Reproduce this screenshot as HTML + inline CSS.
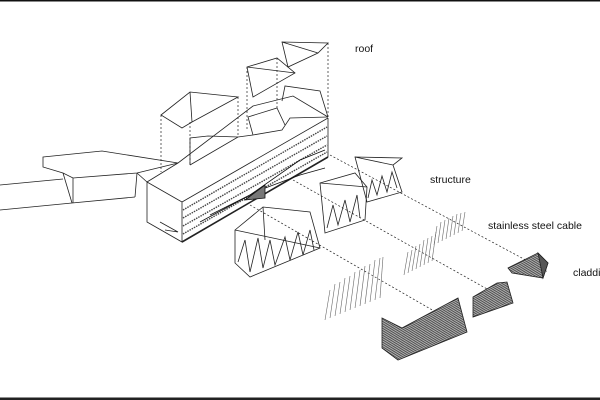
<!DOCTYPE html>
<html><head><meta charset="utf-8"><style>
html,body{margin:0;padding:0;background:#fff;width:600px;height:400px;overflow:hidden}
svg{display:block}
text{font-family:"Liberation Sans",sans-serif;font-size:10.5px;fill:#111}
</style></head><body>
<svg width="600" height="400" viewBox="0 0 600 400" xmlns="http://www.w3.org/2000/svg">
<defs>
<pattern id="h" width="3" height="1.6" patternUnits="userSpaceOnUse" patternTransform="rotate(-25)">
<rect width="3" height="1.6" fill="#bbb"/><rect width="3" height="0.7" fill="#333"/></pattern>
</defs>
<rect x="0" y="0" width="600" height="1.5" fill="#111"/>
<rect x="0" y="397.5" width="600" height="2.5" fill="#222"/>
<g fill="none" stroke="#222" stroke-width="0.8">
<polygon points="43,157 102,151 178,163 137,173 73,178 63,173 43,167"/>
<line x1="73" y1="178" x2="73" y2="203"/><line x1="63" y1="173" x2="72" y2="203"/>
<line x1="137" y1="173" x2="135" y2="197"/>
<polyline points="0,185 63,179"/><polyline points="0,210 72,203 135,197"/>
<line x1="137" y1="173" x2="147" y2="182"/>
<polyline points="147,182 178,163 253,106 293,96 328,117"/>
<polygon points="147,182 182,202 182,242 147,222"/>
<line x1="182" y1="202" x2="328" y2="118"/>
<line x1="182" y1="242" x2="328" y2="157" stroke-width="1.6"/>
<line x1="328" y1="118" x2="328" y2="157"/>
<polyline points="160,222 178,232 165,230"/>
<polyline points="190,165 238,137 253,135 282,130 290,118 328,117"/>
<polyline points="190,165 190,138 208,136 238,137"/>
<polyline points="253,135 248,117 277,108 285,125"/>
<polyline points="282,101 285,86 320,91 328,117"/>
</g>
<g stroke="#444" stroke-width="1.4" stroke-dasharray="1.5 1" fill="none">
<line x1="183" y1="210" x2="327" y2="127"/>
<line x1="183" y1="218" x2="327" y2="136"/>
<line x1="183" y1="226" x2="327" y2="145"/>
<line x1="183" y1="234" x2="327" y2="152"/>
</g>
<g stroke="#111" stroke-width="0.8" fill="none">
<polyline points="200,222 250,195 300,160 325,150"/>
<polyline points="210,215 260,190 300,175 325,168"/>
<path d="M245,200 L265,185 L265,198 Z" fill="#777"/>
</g>
<g fill="none" stroke="#222" stroke-width="0.8">
<polygon points="161,115 190,92 238,97 192,122 182,128"/>
<line x1="190" y1="92" x2="192" y2="122"/>
<polygon points="247,67 277,58 295,73 253,97"/>
<line x1="247" y1="67" x2="295" y2="73"/>
<polygon points="282,42 328,43 318,53 288,67"/>
<line x1="282" y1="42" x2="318" y2="53"/>
</g>
<g stroke="#222" stroke-width="0.7" stroke-dasharray="2 2" fill="none">
<line x1="161" y1="115" x2="161" y2="172"/>
<line x1="190" y1="122" x2="190" y2="165"/>
<line x1="238" y1="97" x2="238" y2="137"/>
<line x1="247" y1="67" x2="247" y2="130"/>
<line x1="277" y1="58" x2="277" y2="108"/>
<line x1="328" y1="43" x2="328" y2="117"/>
<line x1="330" y1="155" x2="548" y2="272"/>
<line x1="293" y1="180" x2="512" y2="303"/>
<line x1="250" y1="205" x2="467" y2="330"/>
</g>
<g fill="none" stroke="#222" stroke-width="0.8">
<polygon points="235,230 263,207 310,212 320,248 250,277 235,263"/>
<line x1="235" y1="230" x2="320" y2="248"/><line x1="263" y1="207" x2="265" y2="240"/>
<polyline points="238,262 245,240 250,272 258,238 263,268 270,240 275,265 285,237 290,260 298,232 303,255 310,230 314,250"/>
<polygon points="320,183 355,173 367,187 365,220 325,233"/>
<line x1="320" y1="183" x2="367" y2="187"/>
<polyline points="327,228 333,205 338,225 345,200 350,222 357,195 360,218"/>
<polygon points="355,157 402,158 393,165 402,192 367,202"/>
<line x1="355" y1="157" x2="393" y2="165"/>
<polyline points="368,198 372,180 377,195 382,176 387,192 392,172 397,188"/>
</g>
<g stroke="#666" stroke-width="0.6">
<line x1="325" y1="320" x2="330" y2="290"/><line x1="330" y1="318" x2="335" y2="284"/><line x1="335" y1="316" x2="340" y2="282"/><line x1="340" y1="314" x2="345" y2="278"/><line x1="345" y1="312" x2="350" y2="276"/><line x1="350" y1="310" x2="355" y2="272"/><line x1="355" y1="308" x2="360" y2="270"/><line x1="360" y1="306" x2="365" y2="266"/><line x1="365" y1="304" x2="370" y2="264"/><line x1="370" y1="302" x2="375" y2="260"/><line x1="375" y1="300" x2="380" y2="258"/><line x1="380" y1="298" x2="383" y2="257"/>
<line x1="404" y1="275" x2="408" y2="252"/><line x1="408" y1="273" x2="412" y2="250"/><line x1="412" y1="271" x2="416" y2="246"/><line x1="416" y1="269" x2="420" y2="244"/><line x1="420" y1="267" x2="424" y2="240"/><line x1="424" y1="265" x2="428" y2="238"/><line x1="428" y1="263" x2="432" y2="236"/><line x1="432" y1="261" x2="436" y2="232"/>
<line x1="434" y1="245" x2="437" y2="226"/><line x1="438" y1="243" x2="441" y2="222"/><line x1="442" y1="241" x2="445" y2="220"/><line x1="446" y1="239" x2="449" y2="218"/><line x1="450" y1="237" x2="453" y2="216"/><line x1="454" y1="235" x2="457" y2="214"/><line x1="458" y1="233" x2="461" y2="213"/><line x1="462" y1="231" x2="465" y2="212"/>
</g>
<g stroke="#222" stroke-width="0.8">
<polygon points="382,318 402,328 458,298 467,332 398,360 382,348" fill="url(#h)"/>
<polygon points="473,297 497,283 507,282 513,303 473,317" fill="url(#h)"/>
<polygon points="508,268 538,253 548,263 543,278 512,273" fill="url(#h)"/>
<polygon points="538,253 548,263 543,278" fill="#555"/>
</g>
<text x="355" y="52">roof</text>
<text x="430" y="183">structure</text>
<text x="488" y="229">stainless steel cable</text>
<text x="573" y="276">claddi</text>
</svg>
</body></html>
